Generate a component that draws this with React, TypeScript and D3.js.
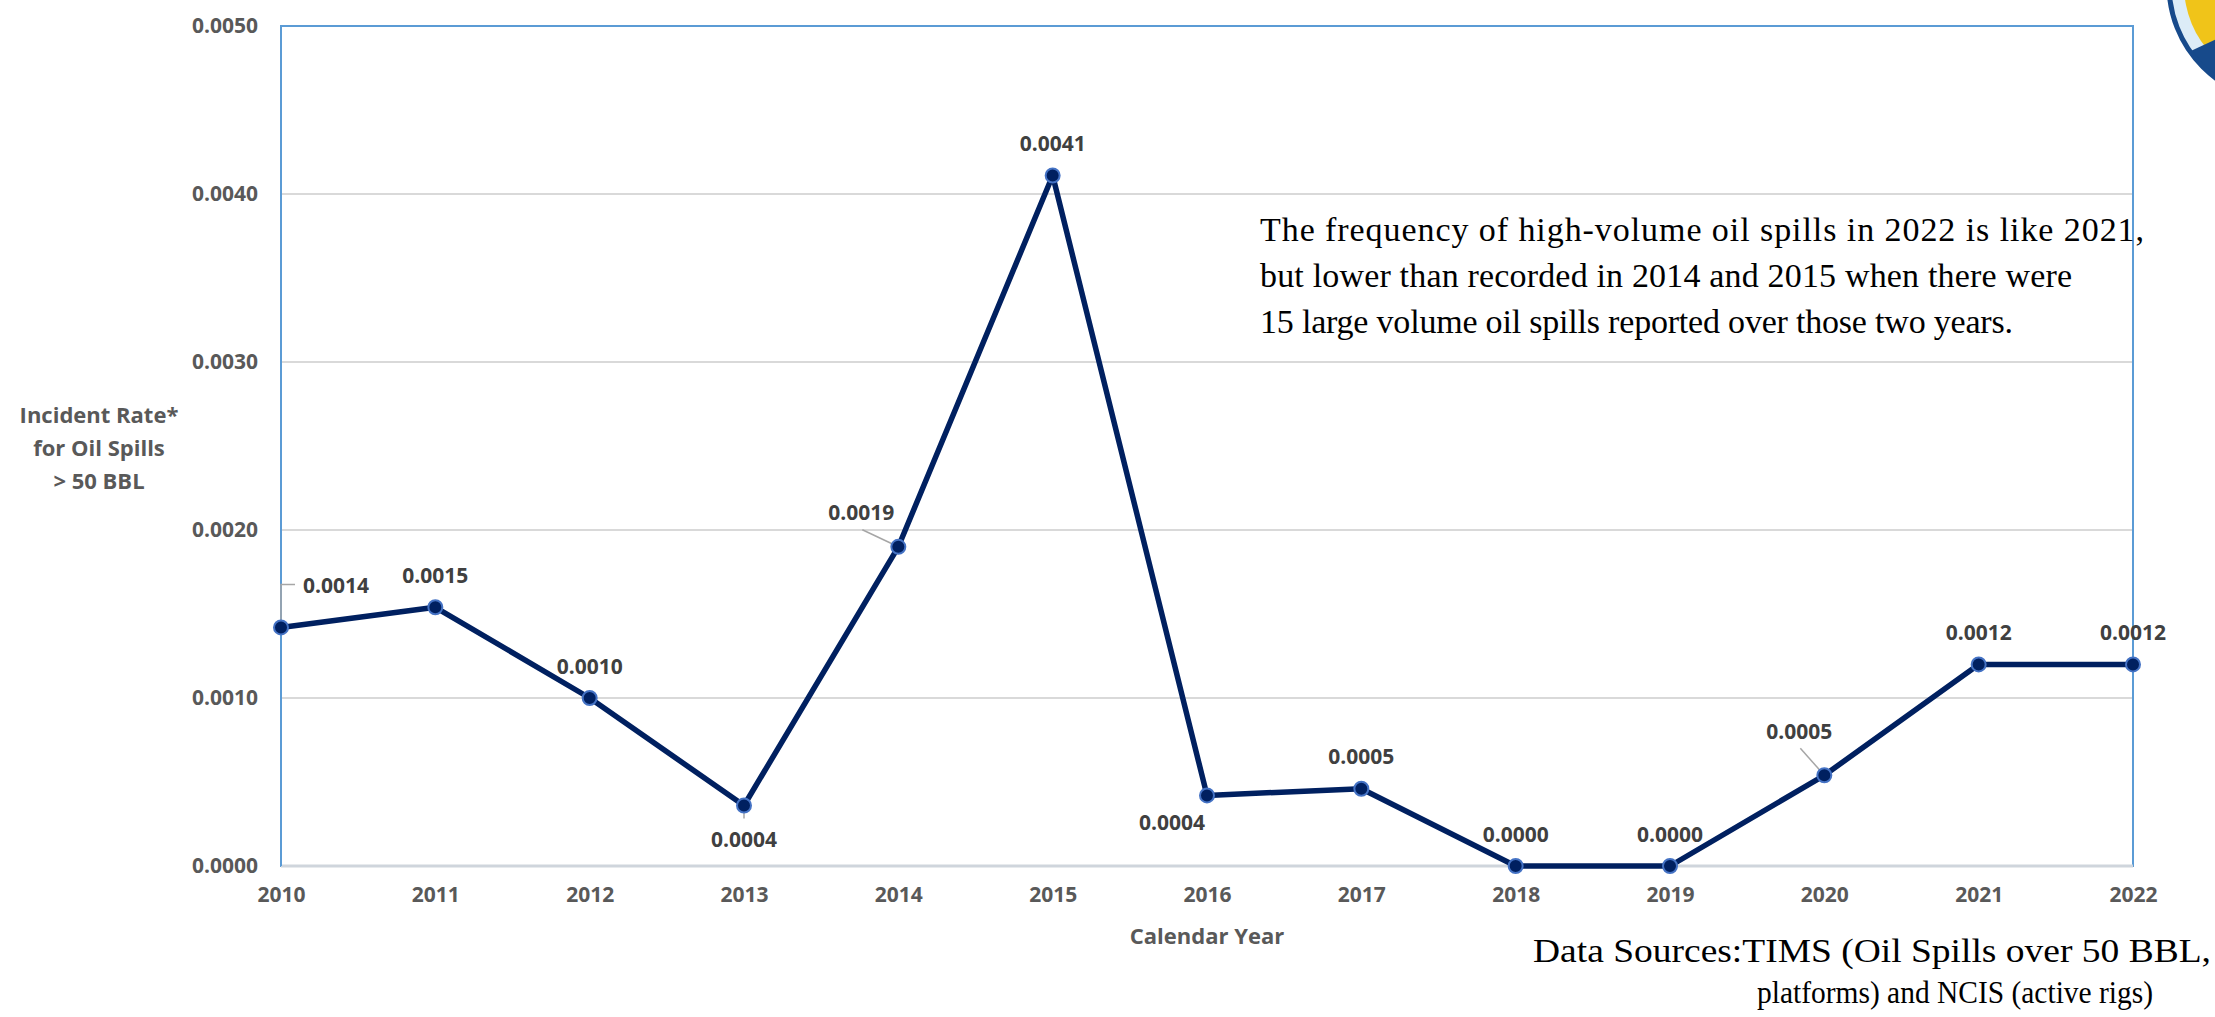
import { useRef, useEffect } from 'react';
import * as d3 from 'd3';

// incident rate for oil spills > 50 BBL, by calendar year
const years = [2010, 2011, 2012, 2013, 2014, 2015, 2016, 2017, 2018, 2019, 2020, 2021, 2022];
const rates = [0.00142, 0.00154, 0.001, 0.00036, 0.0019, 0.00411, 0.00042, 0.00046, 0, 0, 0.00054, 0.0012, 0.0012];
const rateLabels = ['0.0014', '0.0015', '0.0010', '0.0004', '0.0019', '0.0041', '0.0004', '0.0005', '0.0000', '0.0000', '0.0005', '0.0012', '0.0012'];
const yTicks = [0, 0.001, 0.002, 0.003, 0.004, 0.005];
const yTitle = ['Incident Rate*', 'for Oil Spills', '> 50 BBL'];
const xTitle = 'Calendar Year';
const note = [
  'The frequency of high-volume oil spills in 2022 is like 2021,',
  'but lower than recorded in 2014 and 2015 when there were',
  '15 large volume oil spills reported over those two years.',
];
const sources = ['Data Sources:TIMS (Oil Spills over 50 BBL,', 'platforms) and NCIS (active rigs)'];

// where Excel put a few of the data labels (everything else sits above its point)
const labelPlacement: Record<number, string> = {
  2010: 'elbow',
  2013: 'below',
  2014: 'upLeft',
  2016: 'belowLeft',
  2020: 'upLeft2',
};

const SANS = "'Open Sans', 'Noto Sans', sans-serif";
const SERIF = "'Liberation Serif', 'DejaVu Serif', serif";

export default function App() {
  const svgRef = useRef<SVGSVGElement>(null);

  useEffect(() => {
    const svg = svgRef.current;
    if (!svg) return;

    const width = 2215;
    const height = 1017;
    const margin = { top: 26, right: 82, bottom: 151, left: 281 };
    const innerW = width - margin.left - margin.right;
    const innerH = height - margin.top - margin.bottom;

    const svgSel = d3.select(svg);
    svgSel.selectAll('*').remove();
    svgSel.attr('viewBox', `0 0 ${width} ${height}`);

    // logo peeking in at the top right corner
    const logo = svgSel.append('g');
    const defs = svgSel.append('defs');
    defs.append('clipPath').attr('id', 'logo-clip')
      .append('circle').attr('cx', 2285).attr('cy', -15).attr('r', 115);
    logo.append('circle').attr('cx', 2285).attr('cy', -15).attr('r', 115).attr('fill', '#dcecf7');
    logo.append('circle').attr('cx', 2285).attr('cy', -15).attr('r', 101).attr('fill', '#f0c419');
    logo.append('path')
      .attr('clip-path', 'url(#logo-clip)')
      .attr('d', 'M2100,96 L2195,49 L2240,28 L2240,140 L2100,140 Z')
      .attr('fill', '#174a8b');
    logo.append('circle').attr('cx', 2285).attr('cy', -15).attr('r', 116)
      .attr('fill', 'none').attr('stroke', '#174a8b').attr('stroke-width', 5);

    const g = svgSel.append('g').attr('transform', `translate(${margin.left},${margin.top})`);

    const x = d3.scaleLinear().domain([years[0], years[years.length - 1]]).range([0, innerW]);
    const y = d3.scaleLinear().domain([0, 0.005]).range([innerH, 0]);

    // grid
    g.selectAll('.grid-h')
      .data(yTicks.filter((d) => d > 0 && d < 0.005))
      .join('line')
      .attr('class', 'grid-h')
      .attr('x1', 0)
      .attr('x2', innerW)
      .attr('y1', (d) => y(d))
      .attr('y2', (d) => y(d))
      .attr('stroke', '#d9d9d9')
      .attr('stroke-width', 2);

    // plot frame
    g.append('rect')
      .attr('width', innerW)
      .attr('height', innerH)
      .attr('fill', 'none')
      .attr('stroke', '#5b9bd5')
      .attr('stroke-width', 2);
    g.append('line')
      .attr('x1', 0)
      .attr('x2', innerW)
      .attr('y1', innerH)
      .attr('y2', innerH)
      .attr('stroke', '#cfd5dc')
      .attr('stroke-width', 3);
    g.append('line')
      .attr('x1', 0)
      .attr('x2', 0)
      .attr('y1', 0)
      .attr('y2', innerH)
      .attr('stroke', '#5b9bd5')
      .attr('stroke-width', 2);

    // y-axis
    g.append('g')
      .call(d3.axisLeft(y).tickValues(yTicks).tickSize(0).tickPadding(23).tickFormat((d) => (d as number).toFixed(4)))
      .call((sel) => {
        sel.select('.domain').remove();
        sel.selectAll('.tick text')
          .attr('fill', '#595959')
          .attr('font-size', '21px')
          .attr('font-weight', 700)
          .attr('font-family', SANS);
      });

    // x-axis
    g.append('g')
      .attr('transform', `translate(0,${innerH})`)
      .call(d3.axisBottom(x).tickValues(years).tickSize(0).tickPadding(21).tickFormat((d) => String(d)))
      .call((sel) => {
        sel.select('.domain').remove();
        sel.selectAll('.tick text')
          .attr('fill', '#595959')
          .attr('font-size', '21px')
          .attr('font-weight', 700)
          .attr('font-family', SANS);
      });

    // axis titles
    svgSel.append('text')
      .attr('x', (margin.left + margin.left + innerW) / 2)
      .attr('y', 944)
      .attr('text-anchor', 'middle')
      .attr('fill', '#595959')
      .attr('font-size', '22px')
      .attr('font-weight', 700)
      .attr('font-family', SANS)
      .text(xTitle);

    svgSel.append('g')
      .selectAll('text')
      .data(yTitle)
      .join('text')
      .attr('x', 99)
      .attr('y', (_, i) => 423 + i * 33)
      .attr('text-anchor', 'middle')
      .attr('fill', '#595959')
      .attr('font-size', '22px')
      .attr('font-weight', 700)
      .attr('font-family', SANS)
      .text((d) => d);

    // series
    const pts = years.map((yr, i) => ({ yr, v: rates[i], label: rateLabels[i] }));
    const line = d3.line<{ yr: number; v: number }>().x((d) => x(d.yr)).y((d) => y(d.v));

    // leader lines
    pts.forEach((p) => {
      const px = x(p.yr);
      const py = y(p.v);
      const kind = labelPlacement[p.yr];
      let path = '';
      if (kind === 'elbow') path = `M${px},${py} V${py - 43} H${px + 14}`;
      if (kind === 'below') path = `M${px},${py} V${py + 13}`;
      if (kind === 'upLeft') path = `M${px},${py} L${px - 36},${py - 17}`;
      if (kind === 'upLeft2') path = `M${px},${py} L${px - 24},${py - 27}`;
      if (path) {
        g.append('path')
          .attr('d', path)
          .attr('fill', 'none')
          .attr('stroke', '#a6a6a6')
          .attr('stroke-width', 1.5);
      }
    });

    g.append('path')
      .datum(pts)
      .attr('d', line)
      .attr('fill', 'none')
      .attr('stroke', '#002060')
      .attr('stroke-width', 5.5)
      .attr('stroke-linejoin', 'round');

    g.selectAll('.dot')
      .data(pts)
      .join('circle')
      .attr('class', 'dot')
      .attr('cx', (d) => x(d.yr))
      .attr('cy', (d) => y(d.v))
      .attr('r', 7)
      .attr('fill', '#002060')
      .attr('stroke', '#4472c4')
      .attr('stroke-width', 2);

    // data labels
    g.selectAll('.dlabel')
      .data(pts)
      .join('text')
      .attr('class', 'dlabel')
      .attr('x', (d) => {
        const kind = labelPlacement[d.yr];
        if (kind === 'elbow') return x(d.yr) + 22;
        if (kind === 'upLeft') return x(d.yr) - 37;
        if (kind === 'upLeft2') return x(d.yr) - 25;
        if (kind === 'belowLeft') return x(d.yr) - 35;
        return x(d.yr);
      })
      .attr('y', (d) => {
        const kind = labelPlacement[d.yr];
        if (kind === 'elbow') return y(d.v) - 42;
        if (kind === 'below') return y(d.v) + 34;
        if (kind === 'upLeft') return y(d.v) - 34;
        if (kind === 'upLeft2') return y(d.v) - 44;
        if (kind === 'belowLeft') return y(d.v) + 27;
        return y(d.v) - 32;
      })
      .attr('dy', '0.36em')
      .attr('text-anchor', (d) => (labelPlacement[d.yr] === 'elbow' ? 'start' : 'middle'))
      .attr('fill', '#404040')
      .attr('font-size', '21px')
      .attr('font-weight', 700)
      .attr('font-family', SANS)
      .text((d) => d.label);

    // annotation
    const noteWidths = [884, 812, 753];
    svgSel.append('g')
      .selectAll('text')
      .data(note)
      .join('text')
      .attr('x', 1260)
      .attr('y', (_, i) => 241 + i * 46)
      .attr('fill', '#000')
      .attr('font-size', '34px')
      .attr('font-family', SERIF)
      .attr('textLength', (_, i) => noteWidths[i])
      .attr('lengthAdjust', 'spacing')
      .text((d) => d);

    // sources
    const sourceX = [1533, 1757];
    const sourceWidths = [678, 396];
    const sourceSizes = [33, 31];
    svgSel.append('g')
      .selectAll('text')
      .data(sources)
      .join('text')
      .attr('x', (_, i) => sourceX[i])
      .attr('y', (_, i) => 962 + i * 41)
      .attr('fill', '#000')
      .attr('font-size', (_, i) => `${sourceSizes[i]}px`)
      .attr('font-family', SERIF)
      .attr('textLength', (_, i) => sourceWidths[i])
      .attr('lengthAdjust', 'spacingAndGlyphs')
      .text((d) => d);
  }, []);

  return (
    <div style={{ position: 'absolute', left: 0, top: 0, width: 2215, height: 1017, background: '#fff', overflow: 'hidden' }}>
      <svg ref={svgRef} width={2215} height={1017} style={{ display: 'block' }} />
    </div>
  );
}
